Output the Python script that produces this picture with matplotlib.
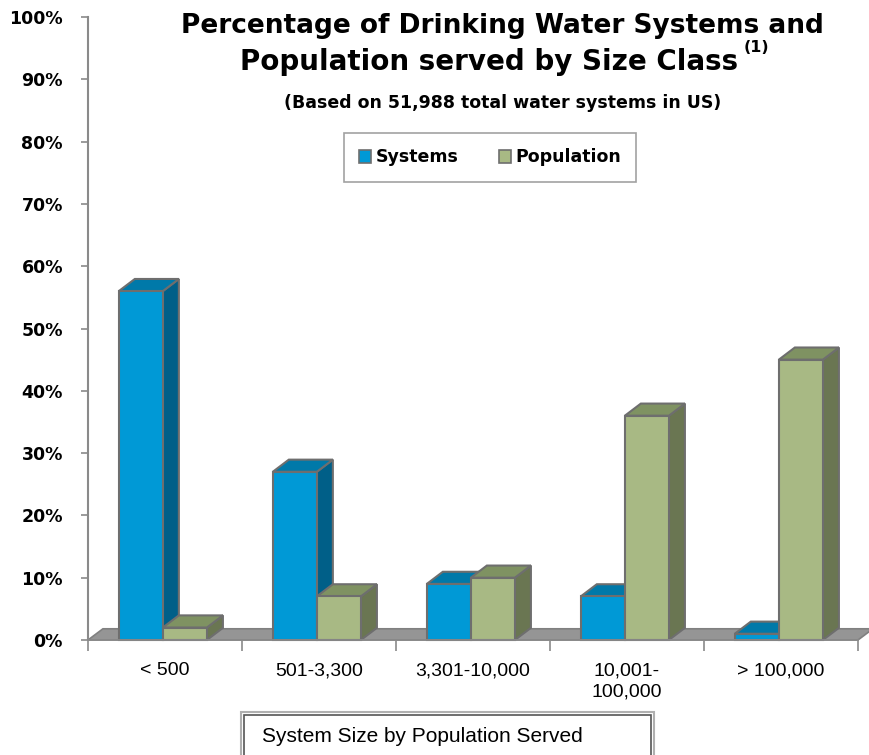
import matplotlib
matplotlib.use("Agg")
import matplotlib.pyplot as plt
from matplotlib.patches import Rectangle, Polygon, Patch

plt.rcParams['font.family'] = ['Liberation Sans', 'DejaVu Sans']
WIDE = ['DejaVu Sans']

categories = ["< 500", "501-3,300", "3,301-10,000", "10,001-\n100,000", "> 100,000"]
series_names = ["Systems", "Population"]
systems = [56, 27, 9, 7, 1]
population = [2, 7, 10, 36, 45]
yticks = [0, 10, 20, 30, 40, 50, 60, 70, 80, 90, 100]

front_cols = ["#0099d6", "#a8b984"]
top_cols = ["#0079a9", "#7f9262"]
side_cols = ["#005f88", "#6a7652"]
edge = "#6e6e6e"

fig = plt.figure(figsize=(8.69, 7.55), dpi=100)
ax = fig.add_axes([88/869, 115/755, 781/869, 623/755])
ax.set_xlim(0, 781/154)
ax.set_ylim(0, 100)

dx, dy = 0.104, 1.95
fdx, fdy = 0.097, 1.8
n = len(categories)

# floor
ax.add_patch(Polygon([(0, 0), (n, 0), (n + fdx, fdy), (fdx, fdy)], closed=True,
                     facecolor="#959595", edgecolor="#808080", lw=1.2, clip_on=False, zorder=1))

bw = 0.286
for i in range(n):
    for s, vals in enumerate([systems, population]):
        h = vals[i]
        x0 = i + 0.20 + s * bw
        side = Polygon([(x0 + bw, 0), (x0 + bw + dx, dy), (x0 + bw + dx, h + dy), (x0 + bw, h)],
                       closed=True, facecolor=side_cols[s], edgecolor=edge, lw=1.5, clip_on=False, zorder=2)
        top = Polygon([(x0, h), (x0 + bw, h), (x0 + bw + dx, h + dy), (x0 + dx, h + dy)],
                      closed=True, facecolor=top_cols[s], edgecolor=edge, lw=1.5, clip_on=False, zorder=2)
        front = Rectangle((x0, 0), bw, h, facecolor=front_cols[s], edgecolor=edge, lw=1.5,
                          clip_on=False, zorder=2)
        ax.add_patch(side)
        ax.add_patch(top)
        ax.add_patch(front)

for sp in ["top", "right"]:
    ax.spines[sp].set_visible(False)
ax.spines["left"].set_color("#8a8a8a")
ax.spines["left"].set_linewidth(1.5)
ax.spines["bottom"].set_color("#8a8a8a")
ax.spines["bottom"].set_linewidth(1.2)
ax.spines["bottom"].set_bounds(0, n)

ax.set_yticks(yticks)
ax.set_yticklabels([f"{v}%" for v in yticks], fontweight="bold", fontsize=12.5, family=WIDE)
ax.tick_params(axis="y", length=5, color="#8a8a8a", width=1.2, pad=13)

ax.set_xticks(range(n + 1))
ax.set_xticklabels([])
ax.set_xticks([i + 0.5 for i in range(n)], minor=True)
ax.set_xticklabels(categories, minor=True, fontsize=14, linespacing=1.3, va="top")
ax.tick_params(axis="x", which="major", length=8, color="#8a8a8a", width=1.2)
ax.tick_params(axis="x", which="minor", length=0, pad=16)

# titles
t1 = fig.text(502/869, 1 - 26/755, "Percentage of Drinking Water Systems and",
              ha="center", va="center", fontsize=19, fontweight="bold", family=WIDE)
t2 = fig.text(489/869, 1 - 62/755, "Population served by Size Class",
              ha="center", va="center", fontsize=20, fontweight="bold", family=WIDE)
fig.canvas.draw()
bb = t2.get_window_extent()
fig.text((bb.x1 + 6)/869, 1 - 48/755, "(1)", ha="left", va="center", fontsize=11.5,
         fontweight="bold", family=WIDE)
fig.text(503/869, 1 - 103/755, "(Based on 51,988 total water systems in US)",
         ha="center", va="center", fontsize=12.5, fontweight="bold", family=WIDE)

handles = [Patch(facecolor=front_cols[0], edgecolor=edge, lw=1.2),
           Patch(facecolor=front_cols[1], edgecolor=edge, lw=1.2)]
leg = fig.legend(handles, series_names, loc="center", bbox_to_anchor=(490/869, 1 - 157.5/755),
                 ncol=2, frameon=True, fancybox=False, edgecolor="#8a8a8a",
                 prop={"weight": "bold", "size": 12.5, "family": WIDE},
                 handlelength=0.7, handleheight=0.7,
                 handletextpad=0.25, columnspacing=2.3, borderpad=0.9, borderaxespad=0)
leg.get_frame().set_linewidth(1.2)

# axis title box
fig.patches.append(Rectangle((241/869, -0.02), (654 - 241)/869, (755 - 712)/755 + 0.02,
                             transform=fig.transFigure, facecolor="white", edgecolor="#b0b0b0", lw=1.5))
fig.patches.append(Rectangle((244/869, -0.02), (651 - 244)/869, (755 - 715)/755 + 0.02,
                             transform=fig.transFigure, facecolor="none", edgecolor="#555555", lw=1.2))
fig.text(262/869, 1 - 737/755, "System Size by Population Served", ha="left", va="center", fontsize=15)

fig.savefig("out.png", dpi=100)
